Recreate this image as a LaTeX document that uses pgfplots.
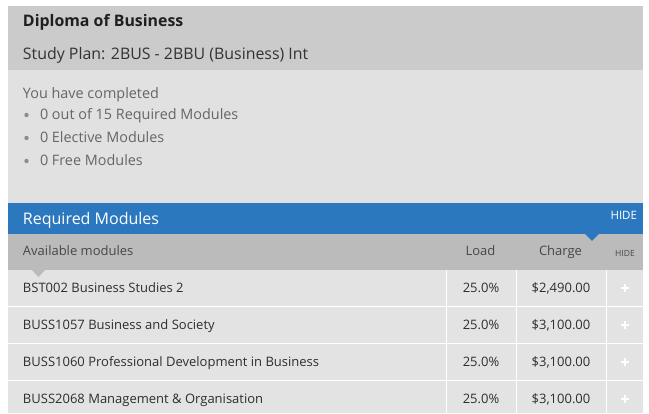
\documentclass[border=0pt]{standalone}
\usepackage{pgfplots}
\pgfplotsset{compat=1.18}
\usepackage{fontspec}
\setmainfont{Open Sans}

\definecolor{hdr}{HTML}{CBCBCB}
\definecolor{body}{HTML}{E1E1E1}
\definecolor{blu}{HTML}{2C78BF}
\definecolor{thead}{HTML}{BBBBBB}
\definecolor{rowbg}{HTML}{E3E3E3}

\newcommand{\fs}[1]{\fontsize{#1}{#1}\selectfont}
\tikzset{every node/.append style={inner sep=0pt, outer sep=0pt}}

\begin{document}
\begin{tikzpicture}
\begin{axis}[
    width=649pt, height=413pt, scale only axis,
    xmin=0, xmax=649, ymin=0, ymax=413, y dir=reverse,
    hide axis, clip=false, no markers,
]
% background and panels
\addplot[fill=white, draw=none] coordinates {(0,0)(649,0)(649,413)(0,413)};
\addplot[fill=hdr, draw=none] coordinates {(8,6)(643,6)(643,70)(8,70)};
\addplot[fill=body, draw=none] coordinates {(8,70)(643,70)(643,203)(8,203)};
\addplot[fill=blu, draw=none] coordinates {(8,203)(643,203)(643,234)(8,234)};
\addplot[fill=thead, draw=none] coordinates {(8,234)(643,234)(643,270)(8,270)};
\addplot[fill=rowbg, draw=none] coordinates {(8,270)(643,270)(643,413)(8,413)};
% pointers
\addplot[fill=blu, draw=none] coordinates {(585,234)(599,234)(592,241)};
\addplot[fill=thead, draw=none] coordinates {(32,270)(45,270)(38.5,277)};
% row separators
\addplot[white, line width=1.2pt] coordinates {(8,306.5)(643,306.5)};
\addplot[white, line width=1.2pt] coordinates {(8,343.5)(643,343.5)};
\addplot[white, line width=1.2pt] coordinates {(8,380.5)(643,380.5)};
\addplot[white, line width=1.2pt] coordinates {(446.5,270)(446.5,413)};
\addplot[white, line width=1.2pt] coordinates {(516.5,270)(516.5,413)};
\addplot[white, line width=1.2pt] coordinates {(606.5,270)(606.5,413)};

% header text
\node[anchor=base west, text=black!88, font=\fs{15.9}\bfseries] at (axis cs:23,27) {Diploma of Business};
\node[anchor=base west, text=black!80, font=\fs{15.9}] at (axis cs:23,60) {Study Plan: 2BUS - 2BBU (Business) Int};
\node[anchor=base west, text=black!60, font=\fs{14.4}] at (axis cs:23,98.5) {You have completed};
\foreach \yy/\tt in {120/0 out of 15 Required Modules, 143/0 Elective Modules, 166/0 Free Modules}{
  \edef\tmp{\noexpand\fill[black!45] (axis cs:26.5,\yy-5) circle[radius=2.2pt];
    \noexpand\node[anchor=base west, text=black!60, font=\noexpand\fs{14.4}] at (axis cs:40,\yy) {\tt};}
  \tmp
}

% blue bar
\node[anchor=base west, text=white, font=\fs{16}] at (axis cs:23,224.5) {Required Modules};
\node[anchor=base east, text=white, font=\fs{11.5}] at (axis cs:637,219.5) {HIDE};

% table header
\node[anchor=base west, text=black!72, font=\fs{13}] at (axis cs:23,256) {Available modules};
\node[anchor=base, text=black!72, font=\fs{13}] at (axis cs:480.5,256) {Load};
\node[anchor=base, text=black!72, font=\fs{13}] at (axis cs:560.5,256) {Charge};
\node[anchor=base, text=black!72, font=\fs{8.5}] at (axis cs:625,257) {HIDE};

% rows
\node[anchor=base west, text=black!82, font=\fs{13}] at (axis cs:23,293) {BST002 Business Studies 2};
\node[anchor=base west, text=black!82, font=\fs{13}] at (axis cs:23,330) {BUSS1057 Business and Society};
\node[anchor=base west, text=black!82, font=\fs{13}] at (axis cs:23,367) {BUSS1060 Professional Development in Business};
\node[anchor=base west, text=black!82, font=\fs{13}] at (axis cs:23,404) {BUSS2068 Management \& Organisation};
\foreach \yy/\cc in {293/\$2{,}490.00, 330/\$3{,}100.00, 367/\$3{,}100.00, 404/\$3{,}100.00}{
  \edef\tmp{\noexpand\node[anchor=base, text=black!82, font=\noexpand\fs{13}] at (axis cs:481,\yy) {25.0\noexpand\%};
    \noexpand\node[anchor=base, text=black!82, font=\noexpand\fs{13}] at (axis cs:561,\yy) {\unexpanded\expandafter{\cc}};
    \noexpand\fill[white] (axis cs:621,\yy-6.2) rectangle (axis cs:629,\yy-3.8);
    \noexpand\fill[white] (axis cs:623.8,\yy-9) rectangle (axis cs:626.2,\yy-1);}
  \tmp
}
\end{axis}
\end{tikzpicture}
\end{document}
